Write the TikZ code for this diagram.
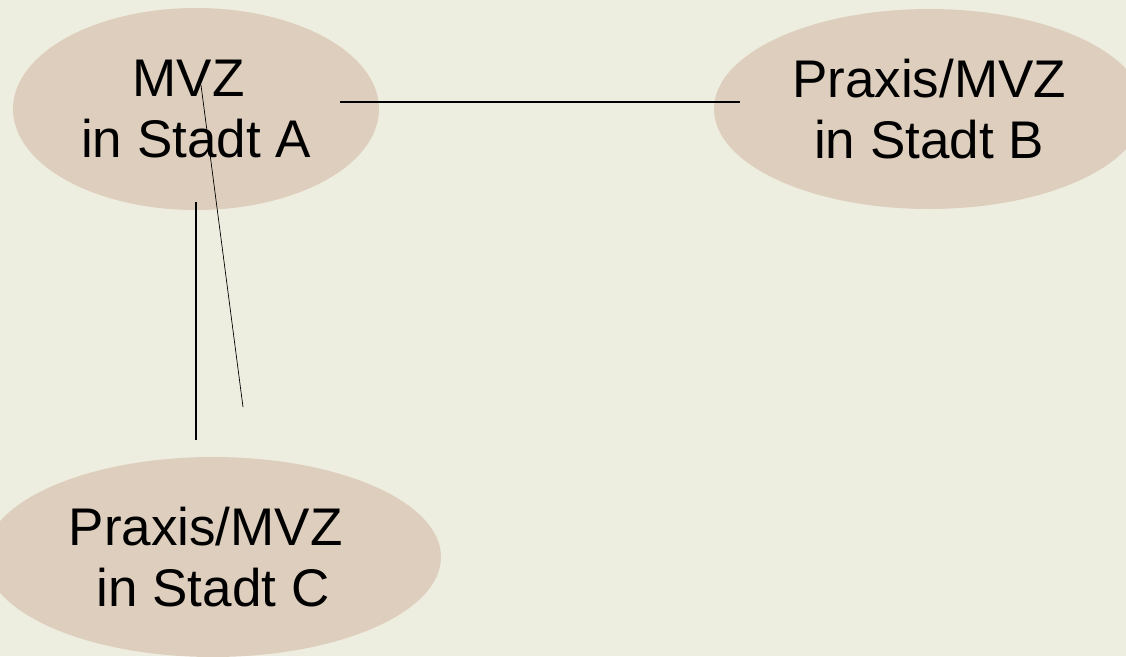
\documentclass[tikz,border=0pt]{standalone}
\usepackage{fontspec}
\setmainfont{Liberation Sans}
\usetikzlibrary{shapes.geometric}

\definecolor{paper}{RGB}{238,238,224}
\definecolor{tan}{RGB}{222,206,189}

\tikzset{
    site/.style={ellipse, fill=tan, inner sep=0pt, align=center,
        font=\fontsize{53}{61}\selectfont},
    link/.style={draw=black, line width=1.3pt},
    thinlink/.style={draw=black, line width=0.7pt},
}

\begin{document}
\begin{tikzpicture}[x=1pt, y=-1pt]
        \fill [paper] (0,0) rectangle (1126,656);
        \useasboundingbox (0,0) rectangle (1126,656);
        \node [site, minimum width=366pt, minimum height=202pt] (mvzA) at (196,109) {\mbox{MVZ\ }\\in Stadt A};
        \node [site, minimum width=430pt, minimum height=200pt] (mvzB) at (929,109) {Praxis/MVZ\\in Stadt B};
        \node [site, minimum width=456pt, minimum height=200pt] (mvzC) at (213,557) {\mbox{Praxis/MVZ\ }\\in Stadt C};
        \coordinate (ab1) at (340,102);
        \coordinate (ab2) at (740,102);
        \coordinate (ac1) at (196,202);
        \coordinate (ac2) at (196,440);
        \coordinate (ad1) at (201,85);
        \coordinate (ad2) at (243,407);
        \draw [link] (ab1) -- (ab2);
        \draw [link] (ac1) -- (ac2);
        \draw [thinlink] (ad1) -- (ad2);
    \end{tikzpicture}
\end{document}
